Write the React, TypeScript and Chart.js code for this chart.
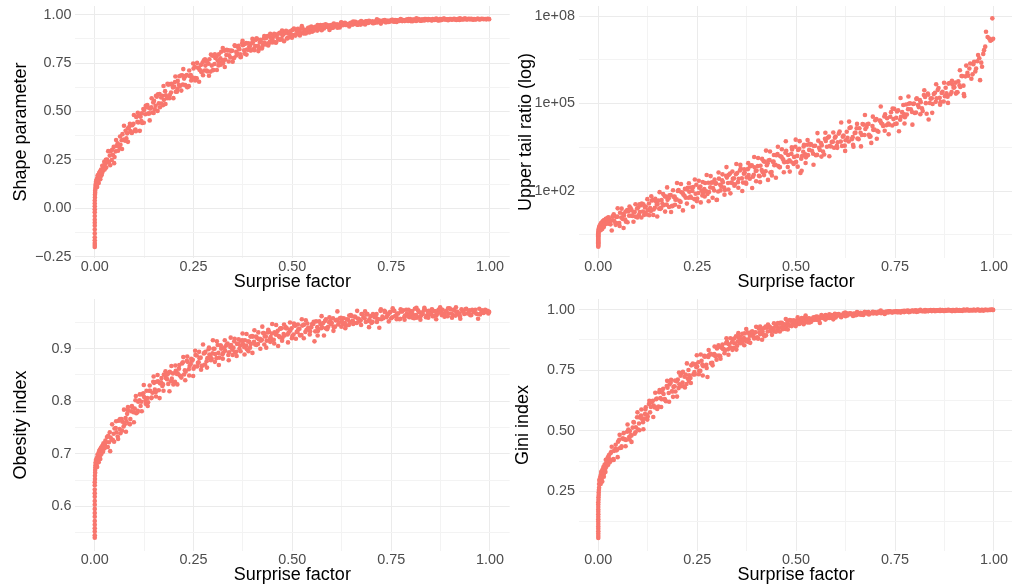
import React, { useEffect, useRef } from 'react';
import { Chart, registerables } from 'chart.js';

Chart.register(...registerables);

// ---------------- data (one entry per simulated distribution) ----------------
const surpriseFactor = [
  0, 0, 0, 0, 0, 0, 0, 0, 0, 0, 0, 0, 0, 0, 0, 0, 0.0005, 0.0005, 0.001, 0.001, 0.0015, 0.002, 0.002, 0.003,
  0.004, 0.005, 0.006, 0.007, 0.008, 0.009, 0.010, 0.011, 0.012, 0.013, 0.014, 0.016, 0.017, 0.019, 0.020, 0.022, 0.024, 0.025, 0.027, 0.029,
  0.031, 0.036, 0.040, 0.046, 0.050, 0.055, 0.061, 0.065, 0.070, 0.076,
  0.080, 0.084, 0.090, 0.095, 0.101, 0.105, 0.110, 0.116, 0.120, 0.125,
  0.131, 0.135, 0.140, 0.146, 0.150, 0.154, 0.160, 0.165, 0.171, 0.175,
  0.180, 0.186, 0.190, 0.195, 0.201, 0.205, 0.210, 0.215, 0.221, 0.226,
  0.230, 0.235, 0.240, 0.246, 0.250, 0.255, 0.261, 0.265, 0.270, 0.276,
  0.280, 0.285, 0.290, 0.296, 0.300, 0.305, 0.311, 0.315, 0.320, 0.325,
  0.330, 0.336, 0.340, 0.345, 0.351, 0.355, 0.360, 0.366, 0.370, 0.375,
  0.380, 0.385, 0.391, 0.395, 0.400, 0.406, 0.410, 0.415, 0.420, 0.426,
  0.430, 0.435, 0.441, 0.445, 0.450, 0.455, 0.460, 0.466, 0.470, 0.475,
  0.480, 0.486, 0.490, 0.495, 0.500, 0.505, 0.511, 0.515, 0.520, 0.525,
  0.530, 0.536, 0.540, 0.545, 0.550, 0.556, 0.560, 0.565, 0.571, 0.575,
  0.580, 0.585, 0.590, 0.596, 0.600, 0.605, 0.610, 0.616, 0.620, 0.625,
  0.630, 0.635, 0.641, 0.645, 0.650, 0.655, 0.660, 0.666, 0.670, 0.675,
  0.680, 0.686, 0.690, 0.695, 0.700, 0.705, 0.711, 0.715, 0.720, 0.725,
  0.730, 0.735, 0.740, 0.746, 0.750, 0.755, 0.760, 0.765, 0.771, 0.775,
  0.780, 0.785, 0.790, 0.796, 0.800, 0.805, 0.810, 0.815, 0.820, 0.826,
  0.830, 0.835, 0.840, 0.845, 0.851, 0.855, 0.860, 0.865, 0.870, 0.876,
  0.880, 0.885, 0.890, 0.895, 0.900, 0.906, 0.910, 0.915, 0.920, 0.925,
  0.930, 0.935, 0.940, 0.946, 0.950, 0.955, 0.960, 0.965, 0.970, 0.975,
  0.980, 0.984, 0.988, 0.991, 0.994, 0.996, 0.998,
  0.033, 0.038, 0.043, 0.048, 0.053, 0.058, 0.063, 0.068, 0.073, 0.078,
  0.082, 0.087, 0.092, 0.098, 0.103, 0.108, 0.113, 0.118, 0.123, 0.128,
  0.133, 0.138, 0.143, 0.148, 0.152, 0.157, 0.162, 0.168, 0.173, 0.178,
  0.183, 0.188, 0.193, 0.198, 0.203, 0.208, 0.213, 0.218, 0.223, 0.228,
  0.233, 0.238, 0.243, 0.248, 0.253, 0.258, 0.263, 0.268, 0.273, 0.278,
  0.283, 0.288, 0.293, 0.298, 0.303, 0.308, 0.313, 0.318, 0.323, 0.328,
  0.333, 0.338, 0.343, 0.348, 0.353, 0.358, 0.363, 0.368, 0.373, 0.378,
  0.383, 0.388, 0.393, 0.398, 0.403, 0.408, 0.413, 0.418, 0.423, 0.428,
  0.433, 0.438, 0.443, 0.448, 0.453, 0.458, 0.463, 0.468, 0.473, 0.478,
  0.483, 0.488, 0.493, 0.498, 0.503, 0.508, 0.513, 0.518, 0.523, 0.528,
  0.533, 0.538, 0.543, 0.548, 0.553, 0.558, 0.563, 0.568, 0.573, 0.578,
  0.583, 0.588, 0.593, 0.598, 0.603, 0.608, 0.613, 0.618, 0.623, 0.628,
  0.633, 0.638, 0.643, 0.648, 0.653, 0.658, 0.663, 0.668, 0.673, 0.678,
  0.683, 0.688, 0.693, 0.698, 0.703, 0.708, 0.713, 0.718, 0.723, 0.728,
  0.733, 0.738, 0.743, 0.748, 0.753, 0.758, 0.763, 0.768, 0.773, 0.778,
  0.783, 0.788, 0.793, 0.798, 0.803, 0.808, 0.813, 0.818, 0.823, 0.828,
  0.833, 0.838, 0.843, 0.848, 0.853, 0.858, 0.863, 0.868, 0.873, 0.878,
  0.883, 0.888, 0.893, 0.898, 0.903, 0.908, 0.913, 0.918, 0.923, 0.928,
  0.933, 0.938, 0.943, 0.948, 0.953, 0.958, 0.963, 0.968, 0.973, 0.978,
  0.0035, 0.0055, 0.0075, 0.0095, 0.0115, 0.0135, 0.015, 0.018, 0.021, 0.023, 0.026, 0.028,
  0.034, 0.039, 0.044, 0.049, 0.054, 0.059, 0.064, 0.069, 0.074, 0.079,
  0.084, 0.089, 0.094, 0.099, 0.104, 0.109, 0.114, 0.119, 0.124, 0.129,
  0.134, 0.139, 0.144, 0.149, 0.155, 0.159, 0.164, 0.169, 0.174, 0.179,
  0.184, 0.189, 0.194, 0.199, 0.204, 0.209, 0.214, 0.219, 0.224, 0.229,
  0.234, 0.239, 0.244, 0.249, 0.254, 0.259, 0.264, 0.269, 0.274, 0.279,
  0.284, 0.289, 0.294, 0.299, 0.304, 0.309, 0.314, 0.319, 0.324, 0.329,
  0.334, 0.339, 0.344, 0.349, 0.354, 0.359, 0.364, 0.369, 0.374, 0.379,
  0.384, 0.389, 0.394, 0.399, 0.404, 0.409, 0.414, 0.419, 0.424, 0.429,
  0.434, 0.439, 0.444, 0.449, 0.454, 0.459, 0.464, 0.469, 0.474, 0.479,
  0.484, 0.489, 0.494, 0.499, 0.504, 0.509, 0.514, 0.519, 0.524, 0.529,
  0.534, 0.544, 0.554, 0.564, 0.574, 0.584, 0.594, 0.604, 0.614, 0.624,
  0.634, 0.644, 0.654, 0.664, 0.674, 0.684, 0.694, 0.704, 0.714, 0.724,
  0.734, 0.744, 0.754, 0.764, 0.774, 0.784, 0.794, 0.804, 0.814, 0.824,
  0.834, 0.844, 0.854, 0.864, 0.874, 0.884, 0.894, 0.904, 0.914, 0.924,
];

const shapeParameter = [
  -0.20, -0.19, -0.18, -0.165, -0.15, -0.13, -0.11, -0.09, -0.075, -0.06, -0.04, -0.02, -0.005, 0.01, 0.025, 0.04, 0.055, 0.07, 0.08, 0.09, 0.10, 0.11, 0.12, 0.13,
  0.12, 0.15, 0.11, 0.16, 0.14, 0.17, 0.13, 0.18, 0.16, 0.19, 0.15, 0.20, 0.17, 0.22, 0.19, 0.21, 0.24, 0.20, 0.23, 0.21,
  0.252, 0.239, 0.294, 0.276, 0.265, 0.322, 0.327, 0.328, 0.383, 0.350,
  0.361, 0.413, 0.399, 0.429, 0.402, 0.472, 0.443, 0.473, 0.441, 0.508,
  0.525, 0.489, 0.515, 0.495, 0.555, 0.530, 0.589, 0.522, 0.581, 0.560,
  0.584, 0.638, 0.585, 0.638, 0.629, 0.602, 0.658, 0.629, 0.687, 0.670,
  0.684, 0.627, 0.683, 0.672, 0.722, 0.673, 0.726, 0.715, 0.703, 0.764,
  0.737, 0.707, 0.770, 0.737, 0.714, 0.776, 0.763, 0.752, 0.809, 0.751,
  0.768, 0.815, 0.790, 0.812, 0.775, 0.838, 0.800, 0.822, 0.783, 0.842,
  0.849, 0.820, 0.836, 0.815, 0.858, 0.838, 0.877, 0.823, 0.863, 0.846,
  0.856, 0.887, 0.854, 0.884, 0.875, 0.858, 0.891, 0.872, 0.905, 0.893,
  0.905, 0.877, 0.903, 0.896, 0.921, 0.895, 0.919, 0.913, 0.905, 0.933,
  0.922, 0.910, 0.933, 0.920, 0.912, 0.935, 0.928, 0.924, 0.946, 0.923,
  0.929, 0.945, 0.937, 0.945, 0.932, 0.954, 0.940, 0.947, 0.934, 0.954,
  0.956, 0.947, 0.952, 0.946, 0.958, 0.952, 0.964, 0.948, 0.960, 0.954,
  0.958, 0.966, 0.957, 0.965, 0.962, 0.957, 0.966, 0.960, 0.970, 0.966,
  0.970, 0.961, 0.968, 0.966, 0.973, 0.965, 0.972, 0.971, 0.968, 0.975,
  0.973, 0.968, 0.975, 0.971, 0.967, 0.975, 0.972, 0.970, 0.977, 0.969,
  0.972, 0.977, 0.974, 0.976, 0.971, 0.978, 0.973, 0.975, 0.970, 0.977,
  0.978, 0.975, 0.976, 0.974, 0.978, 0.975, 0.979, 0.973, 0.977, 0.975,
  0.976, 0.980, 0.975, 0.979, 0.977, 0.975, 0.978, 0.976, 0.979, 0.977,
  0.979, 0.977, 0.978, 0.976, 0.979, 0.978, 0.977,
  0.238, 0.272, 0.249, 0.317, 0.294, 0.336, 0.312, 0.351, 0.355, 0.400,
  0.387, 0.420, 0.392, 0.437, 0.407, 0.447, 0.477, 0.450, 0.513, 0.486,
  0.533, 0.490, 0.521, 0.547, 0.511, 0.576, 0.542, 0.572, 0.533, 0.605,
  0.569, 0.642, 0.598, 0.624, 0.652, 0.602, 0.638, 0.686, 0.639, 0.681,
  0.688, 0.631, 0.688, 0.675, 0.731, 0.671, 0.726, 0.712, 0.753, 0.712,
  0.712, 0.747, 0.706, 0.788, 0.745, 0.784, 0.738, 0.775, 0.764, 0.814,
  0.792, 0.816, 0.779, 0.814, 0.777, 0.808, 0.831, 0.795, 0.852, 0.816,
  0.854, 0.819, 0.838, 0.853, 0.824, 0.870, 0.840, 0.858, 0.826, 0.878,
  0.846, 0.890, 0.861, 0.874, 0.890, 0.858, 0.878, 0.906, 0.874, 0.900,
  0.907, 0.878, 0.904, 0.898, 0.924, 0.892, 0.918, 0.910, 0.928, 0.906,
  0.912, 0.925, 0.908, 0.939, 0.923, 0.937, 0.918, 0.933, 0.929, 0.946,
  0.937, 0.946, 0.933, 0.946, 0.933, 0.944, 0.951, 0.939, 0.958, 0.946,
  0.958, 0.947, 0.953, 0.958, 0.949, 0.962, 0.953, 0.959, 0.949, 0.963,
  0.955, 0.966, 0.958, 0.962, 0.966, 0.957, 0.963, 0.970, 0.961, 0.968,
  0.970, 0.961, 0.968, 0.966, 0.974, 0.964, 0.971, 0.969, 0.974, 0.967,
  0.970, 0.974, 0.968, 0.977, 0.971, 0.975, 0.968, 0.973, 0.971, 0.976,
  0.974, 0.977, 0.972, 0.976, 0.971, 0.974, 0.976, 0.972, 0.978, 0.973,
  0.979, 0.975, 0.976, 0.978, 0.974, 0.978, 0.975, 0.977, 0.973, 0.978,
  0.975, 0.980, 0.976, 0.977, 0.979, 0.974, 0.976, 0.979, 0.975, 0.978,
  0.14, 0.12, 0.17, 0.15, 0.18, 0.16, 0.19, 0.18, 0.22, 0.20, 0.23, 0.25,
  0.295, 0.222, 0.302, 0.233, 0.353, 0.297, 0.371, 0.306, 0.426, 0.349,
  0.343, 0.436, 0.389, 0.482, 0.398, 0.493, 0.400, 0.491, 0.442, 0.529,
  0.521, 0.454, 0.568, 0.492, 0.581, 0.503, 0.590, 0.541, 0.632, 0.539,
  0.643, 0.568, 0.643, 0.569, 0.681, 0.616, 0.682, 0.608, 0.719, 0.636,
  0.625, 0.712, 0.660, 0.748, 0.660, 0.751, 0.654, 0.741, 0.687, 0.770,
  0.757, 0.685, 0.794, 0.713, 0.795, 0.714, 0.796, 0.742, 0.828, 0.730,
  0.819, 0.758, 0.815, 0.757, 0.842, 0.790, 0.839, 0.780, 0.865, 0.799,
  0.794, 0.852, 0.817, 0.875, 0.816, 0.877, 0.812, 0.870, 0.835, 0.890,
  0.880, 0.841, 0.902, 0.857, 0.902, 0.856, 0.902, 0.871, 0.918, 0.863,
  0.917, 0.882, 0.914, 0.881, 0.929, 0.899, 0.927, 0.893, 0.941, 0.903,
  0.903, 0.934, 0.917, 0.947, 0.920, 0.951, 0.921, 0.951, 0.933, 0.961,
  0.954, 0.939, 0.965, 0.948, 0.967, 0.950, 0.968, 0.956, 0.976, 0.954,
  0.972, 0.962, 0.972, 0.962, 0.977, 0.968, 0.977, 0.966, 0.981, 0.969,
  0.970, 0.977, 0.972, 0.980, 0.972, 0.980, 0.971, 0.978, 0.974, 0.981,
];

const upperTailRatio = [
  1.23, 1.32, 1.41, 1.51, 1.62, 1.74, 1.86, 2.0, 2.14, 2.29, 2.45, 2.63, 2.82, 3.02, 3.24, 3.47, 3.72, 3.98, 4.27, 4.57, 4.9, 5.25, 5.62, 6.03,
  5.2, 7.1, 4.5, 7.6, 6.0, 8.3, 5.0, 8.9, 6.6, 9.5, 5.8, 10, 7.2, 11.2, 7.9, 9.5, 12, 7.6, 10.5, 8.9,
  7.2, 13.2, 9.5, 12.9, 7.8, 18, 11.1, 14.6, 8.9, 20,
  23.8, 14.3, 18.7, 13.2, 27.4, 19.1, 37.2, 15.2, 29.2, 21.7,
  25.8, 47.1, 23.3, 43.7, 35.5, 24.8, 48.8, 32.7, 64.4, 49.8,
  70.8, 30.2, 63.1, 50.1, 101, 46.5, 91, 75.2, 59, 130,
  94.8, 58.7, 137, 80.5, 55.6, 130, 103, 85.1, 188, 79.3,
  92.3, 193, 127, 179, 50.1, 265, 144, 201, 108, 288,
  358, 195, 264, 170, 415, 264, 589, 194, 428, 293,
  352, 738, 311, 646, 501, 331, 738, 452, 1020, 764,
  1117, 427, 1005, 769, 1675, 719, 1549, 1282, 973, 2382,
  1714, 1028, 2655, 1476, 995, 2570, 417, 1578, 3819, 1426,
  1698, 3890, 2410, 3483, 1683, 5321, 2547, 3681, 1795, 5224,
  6668, 3475, 4764, 3048, 7379, 4721, 10965, 3499, 8017, 5470,
  6668, 14521, 5998, 3311, 10000, 6252, 14191, 8395, 18880, 13428,
  19409, 7311, 4467, 12474, 26546, 11668, 26122, 21528, 16904, 42364,
  31189, 18923, 50582, 29242, 19861, 53088, 11220, 34914, 88920, 33806,
  41687, 97948, 63387, 96383, 47424, 152055, 75162, 111173, 54954, 167494,
  44668, 28184, 146893, 95719, 233346, 149968, 338844, 111429, 251768, 178649,
  221820, 481948, 207970, 451856, 363078, 242103, 572796, 367282, 868960, 177828,
  1995262, 891251, 2344229, 1000000, 2691535, 1584893, 4570882, 630957, 1819701, 6760830,
  2.88e7, 1.91e7, 1.70e7, 1.41e7, 1.51e7, 8.32e7, 1.66e7,
  9.7, 13.5, 8.2, 13.2, 8.0, 12.3, 16.4, 10.4, 22.1, 14.1,
  25.6, 14.0, 19.2, 25.1, 15.2, 32.7, 19.9, 27.2, 15.6, 37.3,
  20.5, 48.5, 26.7, 34.7, 46.8, 24.4, 37.0, 65.5, 34.1, 56.8,
  73.3, 30.9, 64.9, 51.8, 108, 42.3, 87.5, 68.5, 114, 58.9,
  64.6, 101, 52.6, 163, 85.1, 142, 70.3, 116, 97.0, 191,
  133, 197, 104, 183, 96.4, 164, 233, 131, 332, 188,
  395, 188, 272, 374, 201, 506, 272, 393, 196, 562,
  265, 764, 361, 488, 713, 320, 526, 1050, 474, 889,
  1156, 445, 1033, 796, 1837, 652, 1503, 1153, 2032, 995,
  1130, 1879, 912, 3296, 1600, 2818, 1276, 2228, 1803, 3837,
  2570, 3963, 1905, 3565, 1730, 3034, 4365, 2259, 6223, 3304,
  7311, 3357, 4932, 6761, 3524, 9311, 4943, 7311, 3589, 10789,
  5000, 15136, 7015, 9661, 14125, 5998, 9908, 19770, 8356, 15631,
  19953, 7447, 16827, 12764, 29512, 10765, 25293, 19679, 35810, 17865,
  20701, 35156, 17701, 65464, 32509, 58884, 27669, 50582, 42364, 92470,
  63973, 101859, 51404, 99541, 49091, 88105, 130317, 68707, 194984, 102802,
  217771, 103992, 152055, 210378, 113763, 289068, 156314, 228560, 117490, 348337,
  170216, 504661, 246604, 346737, 518800, 240991, 417830, 872971, 410204, 853067,
  1122018, 1584893, 707946, 2238721, 1258925, 2818383, 3548134, 2511886, 5011872, 8912509,
  6.3, 4.8, 7.9, 5.6, 8.9, 6.6, 10, 7.6, 11.2, 8.3, 12.6, 10,
  4.4, 16.0, 6.9, 25.4, 6.3, 24.8, 5.4, 19.7, 8.5, 29.2,
  22.1, 8.8, 35.1, 12.4, 35.1, 12.4, 35.1, 17.6, 52.5, 14.8,
  66.1, 15.1, 53.7, 13.3, 91.2, 26.3, 79.4, 19.7, 133, 28.2,
  19.1, 106, 33.9, 188, 28.8, 173, 21.6, 118, 37.0, 184,
  132, 28.8, 249, 45.0, 224, 40.7, 204, 64.6, 355, 44.7,
  324, 58.9, 245, 49.0, 432, 105, 372, 75.0, 661, 112,
  83.2, 468, 151, 841, 129, 785, 100, 556, 178, 902,
  700, 127, 1462, 216, 1349, 202, 1259, 351, 2427, 240,
  2265, 339, 1718, 285, 3273, 661, 2692, 442, 5070, 668,
  462, 3126, 851, 5754, 684, 5129, 495, 3350, 912, 5559,
  4121, 794, 9661, 1514, 9886, 1549, 10116, 3020, 22387, 2371,
  23988, 3846, 19953, 3388, 40272, 8414, 35481, 6166, 78524, 11614,
  8810, 66834, 20417, 154882, 20654, 173780, 18836, 142889, 42658, 285102,
  199526, 47863, 457088, 91201, 512861, 104713, 602560, 218776, 1380384, 208930,
];

const obesityIndex = [
  0.540, 0.545, 0.552, 0.558, 0.565, 0.572, 0.580, 0.587, 0.595, 0.603, 0.610, 0.618, 0.625, 0.632, 0.640, 0.646, 0.652, 0.658, 0.664, 0.669, 0.674, 0.678, 0.683, 0.688,
  0.680, 0.692, 0.675, 0.698, 0.686, 0.700, 0.684, 0.705, 0.695, 0.708, 0.690, 0.712, 0.700, 0.715, 0.706, 0.720, 0.710, 0.718, 0.725, 0.713,
  0.732, 0.722, 0.731, 0.726, 0.748, 0.741, 0.763, 0.739, 0.761, 0.756,
  0.762, 0.783, 0.766, 0.788, 0.786, 0.777, 0.799, 0.791, 0.813, 0.808,
  0.820, 0.798, 0.820, 0.816, 0.835, 0.817, 0.838, 0.834, 0.829, 0.851,
  0.844, 0.833, 0.856, 0.843, 0.835, 0.858, 0.853, 0.849, 0.872, 0.851,
  0.856, 0.875, 0.867, 0.877, 0.862, 0.888, 0.873, 0.882, 0.867, 0.891,
  0.894, 0.882, 0.889, 0.881, 0.900, 0.890, 0.907, 0.883, 0.900, 0.892,
  0.896, 0.910, 0.893, 0.907, 0.902, 0.893, 0.909, 0.900, 0.915, 0.909,
  0.916, 0.899, 0.913, 0.909, 0.923, 0.908, 0.921, 0.918, 0.915, 0.930,
  0.924, 0.915, 0.932, 0.922, 0.916, 0.931, 0.927, 0.924, 0.939, 0.921,
  0.925, 0.939, 0.930, 0.936, 0.924, 0.944, 0.932, 0.937, 0.925, 0.944,
  0.946, 0.936, 0.940, 0.933, 0.947, 0.914, 0.952, 0.934, 0.947, 0.941,
  0.925, 0.956, 0.941, 0.953, 0.949, 0.941, 0.954, 0.946, 0.958, 0.953,
  0.958, 0.943, 0.955, 0.951, 0.962, 0.949, 0.960, 0.957, 0.952, 0.966,
  0.960, 0.951, 0.966, 0.956, 0.949, 0.964, 0.960, 0.957, 0.940, 0.956,
  0.958, 0.970, 0.963, 0.969, 0.958, 0.973, 0.962, 0.967, 0.956, 0.971,
  0.973, 0.963, 0.967, 0.960, 0.971, 0.965, 0.976, 0.959, 0.970, 0.963,
  0.966, 0.975, 0.963, 0.972, 0.968, 0.962, 0.971, 0.964, 0.974, 0.969,
  0.974, 0.961, 0.971, 0.967, 0.975, 0.964, 0.973, 0.970, 0.966, 0.957,
  0.972, 0.966, 0.976, 0.969, 0.964, 0.974, 0.970, 0.967, 0.957, 0.965,
  0.973, 0.968, 0.974, 0.970, 0.972, 0.967, 0.970,
  0.713, 0.741, 0.727, 0.738, 0.749, 0.733, 0.747, 0.766, 0.752, 0.768,
  0.776, 0.757, 0.781, 0.779, 0.802, 0.779, 0.802, 0.799, 0.815, 0.801,
  0.806, 0.820, 0.806, 0.837, 0.822, 0.837, 0.821, 0.836, 0.832, 0.850,
  0.842, 0.854, 0.838, 0.853, 0.837, 0.852, 0.862, 0.848, 0.874, 0.859,
  0.877, 0.861, 0.871, 0.879, 0.866, 0.887, 0.874, 0.883, 0.868, 0.892,
  0.876, 0.899, 0.884, 0.891, 0.900, 0.882, 0.892, 0.906, 0.889, 0.902,
  0.906, 0.888, 0.903, 0.898, 0.914, 0.894, 0.910, 0.906, 0.916, 0.903,
  0.906, 0.914, 0.902, 0.924, 0.913, 0.923, 0.909, 0.919, 0.917, 0.930,
  0.923, 0.931, 0.918, 0.929, 0.917, 0.927, 0.934, 0.922, 0.939, 0.928,
  0.941, 0.927, 0.933, 0.939, 0.927, 0.944, 0.932, 0.938, 0.926, 0.945,
  0.932, 0.948, 0.936, 0.941, 0.947, 0.933, 0.941, 0.952, 0.939, 0.949,
  0.953, 0.937, 0.950, 0.946, 0.958, 0.942, 0.955, 0.950, 0.959, 0.947,
  0.949, 0.956, 0.945, 0.964, 0.953, 0.961, 0.949, 0.957, 0.954, 0.965,
  0.958, 0.965, 0.953, 0.962, 0.951, 0.960, 0.966, 0.956, 0.972, 0.961,
  0.972, 0.960, 0.966, 0.970, 0.960, 0.972, 0.962, 0.967, 0.957, 0.971,
  0.960, 0.974, 0.962, 0.966, 0.971, 0.958, 0.964, 0.973, 0.961, 0.969,
  0.973, 0.960, 0.970, 0.966, 0.975, 0.962, 0.971, 0.967, 0.974, 0.964,
  0.966, 0.971, 0.962, 0.977, 0.967, 0.974, 0.963, 0.970, 0.967, 0.975,
  0.971, 0.975, 0.967, 0.973, 0.964, 0.970, 0.974, 0.966, 0.976, 0.969,
  0.684, 0.690, 0.688, 0.696, 0.692, 0.703, 0.698, 0.709, 0.704, 0.716, 0.712, 0.722,
  0.734, 0.705, 0.756, 0.723, 0.762, 0.728, 0.766, 0.744, 0.784, 0.742,
  0.789, 0.756, 0.791, 0.760, 0.810, 0.782, 0.813, 0.781, 0.831, 0.795,
  0.791, 0.830, 0.807, 0.847, 0.809, 0.850, 0.806, 0.844, 0.820, 0.857,
  0.851, 0.819, 0.867, 0.832, 0.868, 0.832, 0.869, 0.845, 0.884, 0.840,
  0.885, 0.849, 0.881, 0.848, 0.896, 0.866, 0.894, 0.860, 0.908, 0.870,
  0.864, 0.902, 0.878, 0.916, 0.875, 0.914, 0.869, 0.906, 0.881, 0.916,
  0.908, 0.878, 0.921, 0.888, 0.919, 0.886, 0.918, 0.895, 0.929, 0.889,
  0.928, 0.895, 0.923, 0.892, 0.935, 0.907, 0.931, 0.900, 0.942, 0.908,
  0.902, 0.936, 0.913, 0.947, 0.910, 0.945, 0.905, 0.938, 0.915, 0.946,
  0.939, 0.912, 0.950, 0.920, 0.948, 0.919, 0.946, 0.926, 0.956, 0.920,
  0.954, 0.927, 0.951, 0.925, 0.962, 0.939, 0.960, 0.934, 0.971, 0.942,
  0.939, 0.963, 0.947, 0.972, 0.945, 0.971, 0.941, 0.966, 0.951, 0.975,
  0.970, 0.952, 0.977, 0.956, 0.975, 0.955, 0.974, 0.959, 0.978, 0.955,
  0.978, 0.959, 0.974, 0.956, 0.979, 0.964, 0.977, 0.959, 0.979, 0.962,
];

const giniIndex = [
  0.057, 0.065, 0.075, 0.085, 0.095, 0.105, 0.115, 0.125, 0.135, 0.145, 0.155, 0.165, 0.175, 0.185, 0.195, 0.205, 0.215, 0.225, 0.235, 0.245, 0.255, 0.265, 0.280, 0.295,
  0.29, 0.31, 0.28, 0.32, 0.30, 0.33, 0.29, 0.34, 0.32, 0.35, 0.31, 0.36, 0.34, 0.38, 0.35, 0.37, 0.39, 0.36, 0.40, 0.37,
  0.407, 0.379, 0.417, 0.419, 0.455, 0.429, 0.468, 0.465, 0.462, 0.505,
  0.499, 0.480, 0.534, 0.514, 0.505, 0.555, 0.550, 0.550, 0.597, 0.559,
  0.576, 0.620, 0.604, 0.630, 0.597, 0.659, 0.630, 0.652, 0.622, 0.678,
  0.691, 0.663, 0.681, 0.662, 0.711, 0.692, 0.737, 0.684, 0.732, 0.716,
  0.729, 0.770, 0.732, 0.774, 0.765, 0.747, 0.789, 0.767, 0.808, 0.722,
  0.813, 0.779, 0.814, 0.808, 0.840, 0.810, 0.844, 0.838, 0.830, 0.868,
  0.857, 0.843, 0.878, 0.861, 0.851, 0.884, 0.876, 0.871, 0.902, 0.870,
  0.878, 0.905, 0.893, 0.905, 0.884, 0.921, 0.899, 0.911, 0.890, 0.925,
  0.928, 0.912, 0.922, 0.911, 0.935, 0.924, 0.946, 0.919, 0.940, 0.931,
  0.938, 0.954, 0.938, 0.953, 0.950, 0.941, 0.957, 0.947, 0.963, 0.957,
  0.963, 0.949, 0.962, 0.958, 0.970, 0.958, 0.945, 0.967, 0.964, 0.978,
  0.972, 0.966, 0.978, 0.972, 0.968, 0.980, 0.977, 0.975, 0.985, 0.973,
  0.976, 0.984, 0.980, 0.983, 0.977, 0.988, 0.981, 0.985, 0.978, 0.989,
  0.988, 0.985, 0.986, 0.984, 0.989, 0.987, 0.991, 0.985, 0.990, 0.987,
  0.989, 0.993, 0.989, 0.992, 0.991, 0.989, 0.993, 0.990, 0.994, 0.992,
  0.995, 0.990, 0.994, 0.993, 0.996, 0.993, 0.996, 0.995, 0.994, 0.998,
  0.997, 0.995, 0.998, 0.996, 0.994, 0.997, 0.996, 0.995, 0.998, 0.995,
  0.996, 0.998, 0.997, 0.998, 0.995, 0.999, 0.996, 0.997, 0.995, 0.998,
  0.999, 0.997, 0.998, 0.997, 0.999, 0.998, 1.0, 0.997, 0.999, 0.998,
  0.999, 0.998, 0.999, 0.999, 1.0, 0.999, 0.999,
  0.413, 0.383, 0.424, 0.423, 0.463, 0.430, 0.468, 0.465, 0.496, 0.474,
  0.482, 0.513, 0.488, 0.556, 0.530, 0.563, 0.535, 0.569, 0.566, 0.610,
  0.598, 0.624, 0.596, 0.633, 0.600, 0.635, 0.659, 0.631, 0.685, 0.656,
  0.698, 0.662, 0.684, 0.704, 0.676, 0.727, 0.699, 0.723, 0.693, 0.751,
  0.718, 0.773, 0.742, 0.762, 0.783, 0.747, 0.773, 0.809, 0.772, 0.805,
  0.816, 0.781, 0.817, 0.811, 0.846, 0.808, 0.843, 0.836, 0.861, 0.836,
  0.844, 0.865, 0.843, 0.890, 0.868, 0.888, 0.863, 0.883, 0.877, 0.905,
  0.892, 0.907, 0.886, 0.907, 0.886, 0.904, 0.916, 0.897, 0.930, 0.910,
  0.930, 0.913, 0.923, 0.932, 0.916, 0.942, 0.927, 0.937, 0.920, 0.949,
  0.934, 0.955, 0.941, 0.949, 0.957, 0.941, 0.951, 0.964, 0.949, 0.961,
  0.964, 0.950, 0.963, 0.959, 0.972, 0.957, 0.970, 0.966, 0.976, 0.965,
  0.968, 0.974, 0.966, 0.983, 0.974, 0.982, 0.972, 0.979, 0.977, 0.985,
  0.981, 0.985, 0.978, 0.984, 0.978, 0.983, 0.987, 0.980, 0.990, 0.984,
  0.990, 0.985, 0.987, 0.989, 0.985, 0.991, 0.987, 0.989, 0.985, 0.992,
  0.988, 0.993, 0.990, 0.991, 0.993, 0.989, 0.991, 0.994, 0.990, 0.993,
  0.996, 0.991, 0.995, 0.993, 0.997, 0.992, 0.995, 0.994, 0.996, 0.993,
  0.995, 0.997, 0.994, 0.998, 0.996, 0.997, 0.995, 0.996, 0.995, 0.998,
  0.997, 0.998, 0.996, 0.998, 0.995, 0.997, 0.998, 0.996, 0.999, 0.997,
  1.0, 0.997, 0.998, 0.999, 0.997, 0.999, 0.997, 0.998, 0.996, 0.999,
  0.30, 0.29, 0.33, 0.31, 0.34, 0.32, 0.35, 0.33, 0.37, 0.36, 0.39, 0.38,
  0.434, 0.379, 0.442, 0.391, 0.483, 0.436, 0.490, 0.436, 0.526, 0.464,
  0.454, 0.536, 0.494, 0.576, 0.502, 0.588, 0.506, 0.588, 0.546, 0.624,
  0.617, 0.557, 0.657, 0.590, 0.668, 0.598, 0.673, 0.627, 0.706, 0.620,
  0.710, 0.640, 0.707, 0.641, 0.740, 0.684, 0.743, 0.679, 0.778, 0.706,
  0.697, 0.777, 0.732, 0.812, 0.733, 0.815, 0.728, 0.806, 0.759, 0.833,
  0.818, 0.770, 0.848, 0.793, 0.853, 0.797, 0.856, 0.820, 0.882, 0.814,
  0.882, 0.834, 0.881, 0.835, 0.903, 0.861, 0.900, 0.853, 0.920, 0.867,
  0.863, 0.911, 0.881, 0.929, 0.880, 0.930, 0.876, 0.924, 0.894, 0.938,
  0.927, 0.896, 0.944, 0.909, 0.945, 0.910, 0.946, 0.923, 0.961, 0.918,
  0.957, 0.932, 0.956, 0.932, 0.968, 0.945, 0.965, 0.940, 0.976, 0.947,
  0.947, 0.968, 0.957, 0.978, 0.959, 0.981, 0.960, 0.981, 0.969, 0.988,
  0.983, 0.974, 0.990, 0.979, 0.990, 0.980, 0.991, 0.984, 0.996, 0.982,
  0.993, 0.988, 0.993, 0.988, 0.995, 0.991, 0.996, 0.991, 0.999, 0.993,
  0.994, 0.997, 0.995, 0.999, 0.995, 0.999, 0.994, 0.998, 0.996, 0.999,
];

// ---------------- ticks ----------------
const xMajorTicks = [0, 0.25, 0.5, 0.75, 1];
const xMinorTicks = [0.125, 0.375, 0.625, 0.875];
const xTickLabels = ['0.00', '0.25', '0.50', '0.75', '1.00'];

const shapeMajorTicks = [-0.25, 0, 0.25, 0.5, 0.75, 1];
const shapeMinorTicks = [-0.125, 0.125, 0.375, 0.625, 0.875];
const shapeTickLabels = ['\u22120.25', '0.00', '0.25', '0.50', '0.75', '1.00'];

const tailMajorTicks = [1e2, 1e5, 1e8];
const tailMinorTicks = [3.1623, 3162.3, 3162277.7];
const tailTickLabels = ['1e+02', '1e+05', '1e+08'];

const obesityMajorTicks = [0.6, 0.7, 0.8, 0.9];
const obesityMinorTicks = [0.55, 0.65, 0.75, 0.85, 0.95];
const obesityTickLabels = ['0.6', '0.7', '0.8', '0.9'];

const giniMajorTicks = [0.25, 0.5, 0.75, 1];
const giniMinorTicks = [0.125, 0.375, 0.625, 0.875];
const giniTickLabels = ['0.25', '0.50', '0.75', '1.00'];

const X_TITLE = 'Surprise factor';

const FONT = '"Liberation Sans", Arial, Helvetica, sans-serif';
const POINT_COLOR = '#F8766D';
const MAJOR_GRID = '#EBEBEB';
const MINOR_GRID = '#F3F3F3';

const PANELS = [
  {
    title: 'Shape parameter', values: shapeParameter, type: 'linear', min: -0.257, max: 1.045,
    major: shapeMajorTicks, minor: shapeMinorTicks, labels: shapeTickLabels,
    left: 0, top: 0, width: 512, yWidth: 75, padRight: 2, titlePad: 10,
  },
  {
    title: 'Upper tail ratio (log)', values: upperTailRatio, type: 'logarithmic', min: 0.5047, max: 2.203e8,
    major: tailMajorTicks, minor: tailMinorTicks, labels: tailTickLabels,
    left: 508, top: 0, width: 508, yWidth: 70.5, padRight: 2, titlePad: 7,
  },
  {
    title: 'Obesity index', values: obesityIndex, type: 'linear', min: 0.5149, max: 0.9946,
    major: obesityMajorTicks, minor: obesityMinorTicks, labels: obesityTickLabels,
    left: 0, top: 293, width: 512, yWidth: 75, padRight: 2, titlePad: 10,
  },
  {
    title: 'Gini index', values: giniIndex, type: 'linear', min: 0.0034, max: 1.044,
    major: giniMajorTicks, minor: giniMinorTicks, labels: giniTickLabels,
    left: 508, top: 293, width: 508, yWidth: 70.5, padRight: 2, titlePad: 4,
  },
];

const HEIGHT = 293;

function tickObjects(major: number[], minor: number[]) {
  return [...major, ...minor].sort((a, b) => a - b).map((v) => ({ value: v }));
}

function gridColor(major: number[]) {
  return (ctx: any) => (ctx.tick && major.indexOf(ctx.tick.value) >= 0 ? MAJOR_GRID : MINOR_GRID);
}

function Panel({ panel }: { panel: any }) {
  const ref = useRef<HTMLCanvasElement | null>(null);
  useEffect(() => {
    if (!ref.current) return;
    const points = surpriseFactor.map((x, i) => ({ x, y: panel.values[i] }));
    const chart = new Chart(ref.current, {
      type: 'scatter',
      data: {
        datasets: [
          {
            data: points,
            backgroundColor: POINT_COLOR,
            borderWidth: 0,
            pointRadius: 2.3,
            pointHoverRadius: 2.3,
          },
        ],
      },
      options: {
        animation: false,
        responsive: false,
        devicePixelRatio: 1,
        events: [],
        layout: { padding: { top: 6, left: 0, right: panel.padRight, bottom: 0 } },
        plugins: { legend: { display: false }, tooltip: { enabled: false } },
        scales: {
          x: {
            type: 'linear',
            position: 'bottom',
            min: -0.05,
            max: 1.05,
            afterBuildTicks: (s: any) => {
              s.ticks = tickObjects(xMajorTicks, xMinorTicks);
            },
            afterFit: (s: any) => {
              s.height = 35;
              s.paddingLeft = 0;
              s.paddingRight = 0;
              s.paddingTop = 0;
              s.paddingBottom = 0;
            },
            border: { display: false },
            grid: {
              drawTicks: false,
              color: gridColor(xMajorTicks),
              lineWidth: 1,
            },
            ticks: {
              autoSkip: false,
              maxRotation: 0,
              padding: 0,
              color: '#4D4D4D',
              font: { family: FONT, size: 14.4 },
              callback: (v: any) => {
                const i = xMajorTicks.indexOf(v);
                return i >= 0 ? xTickLabels[i] : '';
              },
            },
            title: {
              display: true,
              text: X_TITLE,
              color: '#000000',
              font: { family: FONT, size: 18, lineHeight: 1.2 },
              padding: { top: 0, bottom: 0 },
            },
          },
          y: {
            type: panel.type,
            position: 'left',
            min: panel.min,
            max: panel.max,
            afterBuildTicks: (s: any) => {
              s.ticks = tickObjects(panel.major, panel.minor);
            },
            afterFit: (s: any) => {
              s.width = panel.yWidth;
              s.paddingLeft = 0;
              s.paddingRight = 0;
              s.paddingTop = 0;
              s.paddingBottom = 0;
            },
            border: { display: false },
            grid: {
              drawTicks: false,
              color: gridColor(panel.major),
              lineWidth: 1,
            },
            ticks: {
              autoSkip: false,
              padding: 3.5,
              color: '#4D4D4D',
              font: { family: FONT, size: 14.4 },
              callback: (v: any) => {
                const i = panel.major.indexOf(v);
                return i >= 0 ? panel.labels[i] : '';
              },
            },
            title: {
              display: true,
              text: panel.title,
              color: '#000000',
              font: { family: FONT, size: 18, lineHeight: 1.2 },
              padding: { top: panel.titlePad, bottom: 0 },
            },
          },
        },
      } as any,
    });
    return () => chart.destroy();
  }, [panel]);

  return (
    <canvas
      ref={ref}
      width={panel.width}
      height={HEIGHT}
      style={{ position: 'absolute', left: panel.left, top: panel.top, width: panel.width, height: HEIGHT }}
    />
  );
}

export default function App() {
  return (
    <div
      style={{
        position: 'absolute',
        left: 0,
        top: 0,
        width: 1012,
        height: 586,
        overflow: 'hidden',
        background: '#ffffff',
      }}
    >
      {PANELS.map((p, i) => (
        <Panel key={i} panel={p} />
      ))}
    </div>
  );
}
